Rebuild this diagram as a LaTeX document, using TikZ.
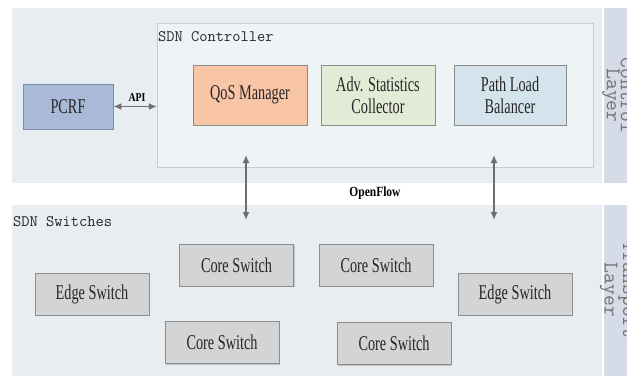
\documentclass[tikz,border=0pt]{standalone}
\usepackage{fontspec}
\setmainfont{Liberation Serif}
\newfontfamily\boxfont[FakeStretch=0.68]{Liberation Serif}
\newfontfamily\lblfont[FakeStretch=0.82]{Liberation Serif}
\usetikzlibrary{arrows.meta,shadows}
\definecolor{layerbg}{HTML}{E8EDF2}
\definecolor{tabbg}{HTML}{D5DBE7}
\definecolor{ctrlbg}{HTML}{EEF3F6}
\definecolor{pcrfc}{HTML}{A9BAD8}
\definecolor{pcrfb}{HTML}{7D8BA6}
\definecolor{qosc}{HTML}{F9C5A7}
\definecolor{advc}{HTML}{E3EAD5}
\definecolor{pathc}{HTML}{D5E4EC}
\definecolor{swc}{HTML}{D4D4D4}
\definecolor{boxb}{HTML}{8C8C8C}
\definecolor{arrc}{HTML}{6E6E6E}
\definecolor{txtc}{HTML}{262626}
\tikzset{
  layer/.style={fill=layerbg, draw=none},
  tab/.style={fill=tabbg, draw=none},
  fbox/.style={draw=boxb, line width=0.8pt, minimum width=#1, minimum height=60pt,
    inner sep=0pt, align=center, text=txtc,
    font=\boxfont\fontsize{21}{22}\selectfont,
    drop shadow={shadow xshift=1.2pt, shadow yshift=-1.2pt, opacity=0.3, fill=black!60}},
  swbox/.style={fbox=114pt, fill=swc, minimum height=42pt},
  dblarrow/.style={{Latex[length=8pt,width=7pt]}-{Latex[length=8pt,width=7pt]},
    draw=arrc, line width=1.6pt},
  monolbl/.style={anchor=west, inner sep=0pt, text=txtc,
    font=\ttfamily\fontsize{16}{18}\selectfont},
  tablbl/.style={rotate=-90, align=center, inner sep=0pt, text=black!55,
    font=\ttfamily\fontsize{21}{14}\selectfont},
  boldlbl/.style={inner sep=0pt, text=black, font=\lblfont\bfseries\fontsize{#1}{#1}\selectfont}
}
\begin{document}
\begin{tikzpicture}[x=1pt,y=-1pt]
\useasboundingbox (0,0) rectangle (627,378);
\clip (0,0) rectangle (627,378);
\fill[white] (0,0) rectangle (627,378);
% layers
\fill[layer] (12,8) rectangle (602,183);
\fill[tab] (604,8) rectangle (627,183);
\fill[layer] (12,205) rectangle (602,376);
\fill[tab] (604,205) rectangle (627,376);
\node[tablbl] (ctab) at (618,95.5) {Control\\Layer};
\node[tablbl] (ttab) at (618,290) {Transport\\Layer};
% controller
\node[draw=black!20, fill=ctrlbg, minimum width=436pt, minimum height=144pt, inner sep=0pt,
  drop shadow={shadow xshift=1.2pt, shadow yshift=-1.2pt, opacity=0.25, fill=black!60}]
  (ctrl) at (375,95) {};
\node[monolbl] (ctrltxt) at (158,37) {SDN Controller};
\node[fbox=90pt, fill=pcrfc, draw=pcrfb, minimum height=45pt] (pcrf) at (68,106.5) {PCRF};
\node[fbox=114pt, fill=qosc] (qos) at (250,95) {QoS Manager};
\node[fbox=114pt, fill=advc] (adv) at (378,95) {Adv. Statistics\\Collector};
\node[fbox=112pt, fill=pathc] (plb) at (510,95) {Path Load\\Balancer};
\draw[dblarrow] (pcrf.east) -- (pcrf.east -| ctrl.west);
\node[boldlbl=12] (api) at (137,98) {API};
% switches
\node[monolbl] (swtxt) at (13,222) {SDN Switches};
\node[swbox] (e1) at (92,294) {Edge Switch};
\node[swbox] (c1) at (236.5,265) {Core Switch};
\node[swbox] (c2) at (376,265) {Core Switch};
\node[swbox] (e2) at (515,294) {Edge Switch};
\node[swbox] (c3) at (222,342.5) {Core Switch};
\node[swbox] (c4) at (394,343.5) {Core Switch};
% openflow
\coordinate (of1a) at (246,155);
\coordinate (of1b) at (246,220);
\coordinate (of2a) at (494,155);
\coordinate (of2b) at (494,220);
\draw[dblarrow] (of1a) -- (of1b);
\draw[dblarrow] (of2a) -- (of2b);
\node[boldlbl=14] (of) at (375,193) {OpenFlow};
\end{tikzpicture}
\end{document}
